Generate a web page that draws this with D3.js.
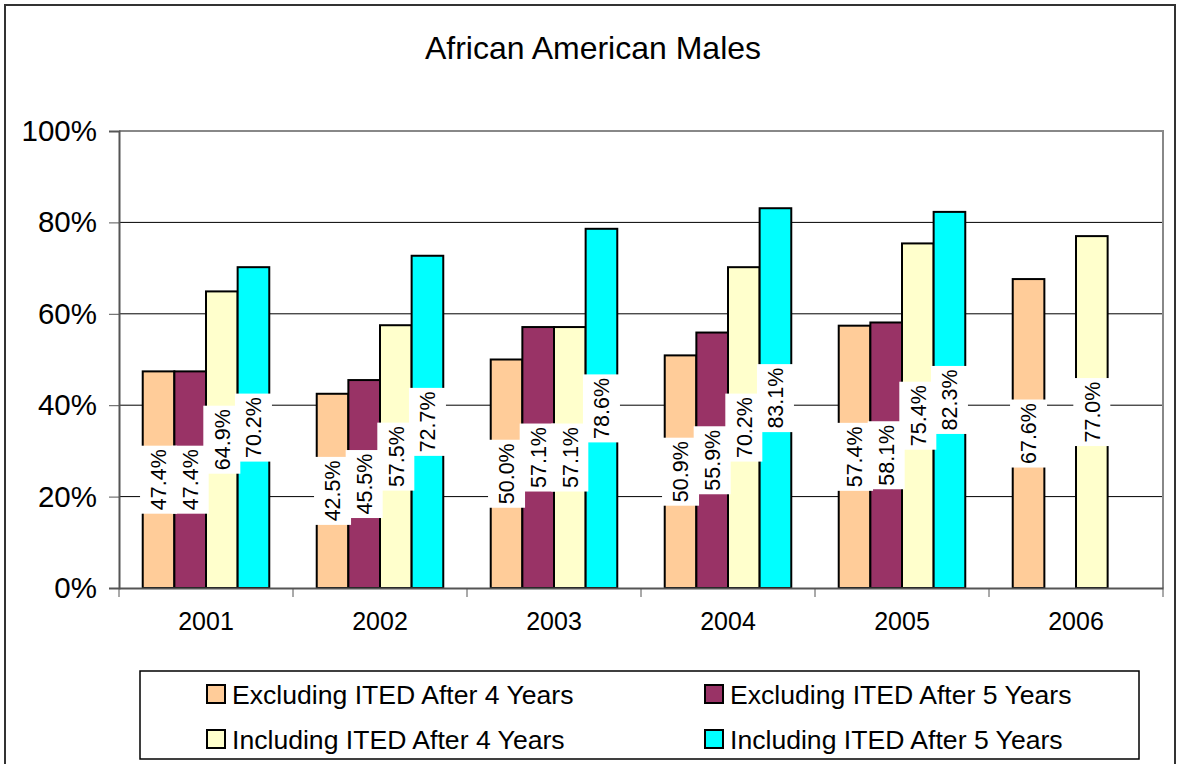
<!DOCTYPE html>
<html>
<head>
<meta charset="utf-8">
<script src="https://cdn.jsdelivr.net/npm/d3@7"></script>
<style>
  body { margin: 0; background: #fff; }
  text { font-family: "Liberation Sans", Arial, sans-serif; fill: #000; }
</style>
</head>
<body>
<svg id="chart" width="1183" height="764"></svg>
<script>
// data
var years = ['2001', '2002', '2003', '2004', '2005', '2006'];
var seriesNames = ['Excluding ITED After 4 Years', 'Excluding ITED After 5 Years',
                   'Including ITED After 4 Years', 'Including ITED After 5 Years'];
var excl4 = [47.4, 42.5, 50.0, 50.9, 57.4, 67.6];
var excl5 = [47.4, 45.5, 57.1, 55.9, 58.1, null];
var incl4 = [64.9, 57.5, 57.1, 70.2, 75.4, 77.0];
var incl5 = [70.2, 72.7, 78.6, 83.1, 82.3, null];
var yTicks = [0, 20, 40, 60, 80, 100];
var colors = ['#FFCC99', '#993366', '#FFFFCC', '#00FFFF'];

var allSeries = [excl4, excl5, incl4, incl5];

var svg = d3.select('#chart');

// outer chart border
svg.append('rect')
    .attr('x', 5).attr('y', 5)
    .attr('width', 1170).attr('height', 770)
    .attr('fill', 'none')
    .attr('stroke', '#333')
    .attr('stroke-width', 2);

svg.append('text')
    .attr('x', 593).attr('y', 59)
    .attr('text-anchor', 'middle')
    .style('font-size', '32px')
    .text('African American Males');

var plot = {left: 119, right: 1163, top: 131, bottom: 588};

var x0 = d3.scaleBand().domain(years).range([plot.left, plot.right]);
var x1 = d3.scaleBand().domain(d3.range(4)).range([0, x0.bandwidth()])
    .paddingInner(0).paddingOuter(0.75);
var y = d3.scaleLinear().domain([0, 100]).range([plot.bottom, plot.top]);

// gridlines
svg.append('g').selectAll('line')
    .data(yTicks.filter(function(d) { return d > 0 && d < 100; }))
    .enter().append('line')
    .attr('x1', plot.left).attr('x2', plot.right)
    .attr('y1', function(d) { return y(d); })
    .attr('y2', function(d) { return y(d); })
    .attr('stroke', '#000')
    .attr('stroke-width', 1);

// plot frame (top and right)
svg.append('path')
    .attr('d', 'M' + plot.left + ',' + plot.top + 'H' + plot.right + 'V' + plot.bottom)
    .attr('fill', 'none')
    .attr('stroke', '#888')
    .attr('stroke-width', 2);

// bars
var rows = [];
years.forEach(function(yr, i) {
  allSeries.forEach(function(s, j) {
    if (s[i] != null) rows.push({year: yr, s: j, v: s[i]});
  });
});

svg.append('g').selectAll('rect')
    .data(rows)
    .enter().append('rect')
    .attr('x', function(d) { return x0(d.year) + x1(d.s); })
    .attr('y', function(d) { return y(d.v); })
    .attr('width', x1.bandwidth())
    .attr('height', function(d) { return y(0) - y(d.v); })
    .attr('fill', function(d) { return colors[d.s]; })
    .attr('stroke', '#000')
    .attr('stroke-width', 2);

// y axis
var yAxis = svg.append('g')
    .attr('transform', 'translate(' + plot.left + ',0)')
    .call(d3.axisLeft(y).tickValues(yTicks).tickSize(10).tickPadding(12)
          .tickFormat(function(d) { return d + '%'; }));
yAxis.select('.domain').attr('stroke', '#555').attr('stroke-width', 2);
yAxis.selectAll('.tick line').attr('stroke', '#555');
yAxis.selectAll('text').style('font-size', '29.5px').attr('fill', '#000');

// x axis
var xAxis = svg.append('g')
    .attr('transform', 'translate(0,' + plot.bottom + ')')
    .call(d3.axisBottom(x0).tickSize(0).tickPadding(24));
xAxis.select('.domain').attr('stroke', '#555').attr('stroke-width', 2);
xAxis.selectAll('text').style('font-size', '25px').attr('fill', '#000');
svg.append('g').selectAll('line')
    .data(years.concat(['end']))
    .enter().append('line')
    .attr('x1', function(d, i) { return plot.left + i * x0.step(); })
    .attr('x2', function(d, i) { return plot.left + i * x0.step(); })
    .attr('y1', plot.bottom).attr('y2', plot.bottom + 9)
    .attr('stroke', '#555');

// data labels with white boxes
var lab = svg.append('g').selectAll('g')
    .data(rows)
    .enter().append('g')
    .attr('transform', function(d) {
      var cx = x0(d.year) + x1(d.s) + x1.bandwidth() / 2;
      var cy = (y(d.v) + y(0)) / 2;
      return 'translate(' + cx + ',' + cy + ') rotate(-90)';
    });
lab.append('rect')
    .attr('x', -34).attr('y', -18.5)
    .attr('width', 68).attr('height', 37)
    .attr('fill', '#fff');
lab.append('text')
    .attr('text-anchor', 'middle')
    .attr('dy', '0.36em')
    .style('font-size', '21.5px')
    .text(function(d) { return d.v.toFixed(1) + '%'; });

// legend
svg.append('rect')
    .attr('x', 140).attr('y', 671)
    .attr('width', 999).attr('height', 88)
    .attr('fill', '#fff')
    .attr('stroke', '#000')
    .attr('stroke-width', 1.5);

var legendPos = [[207, 694], [705, 694], [207, 739], [705, 739]];
var legend = svg.append('g').selectAll('g')
    .data(seriesNames)
    .enter().append('g')
    .attr('transform', function(d, i) {
      return 'translate(' + legendPos[i][0] + ',' + legendPos[i][1] + ')';
    });
legend.append('rect')
    .attr('x', 0).attr('y', -9)
    .attr('width', 18).attr('height', 18)
    .attr('fill', function(d, i) { return colors[i]; })
    .attr('stroke', '#000')
    .attr('stroke-width', 2);
legend.append('text')
    .attr('x', 25).attr('dy', '0.36em')
    .style('font-size', '26.6px')
    .text(function(d) { return d; });
</script>
</body>
</html>
